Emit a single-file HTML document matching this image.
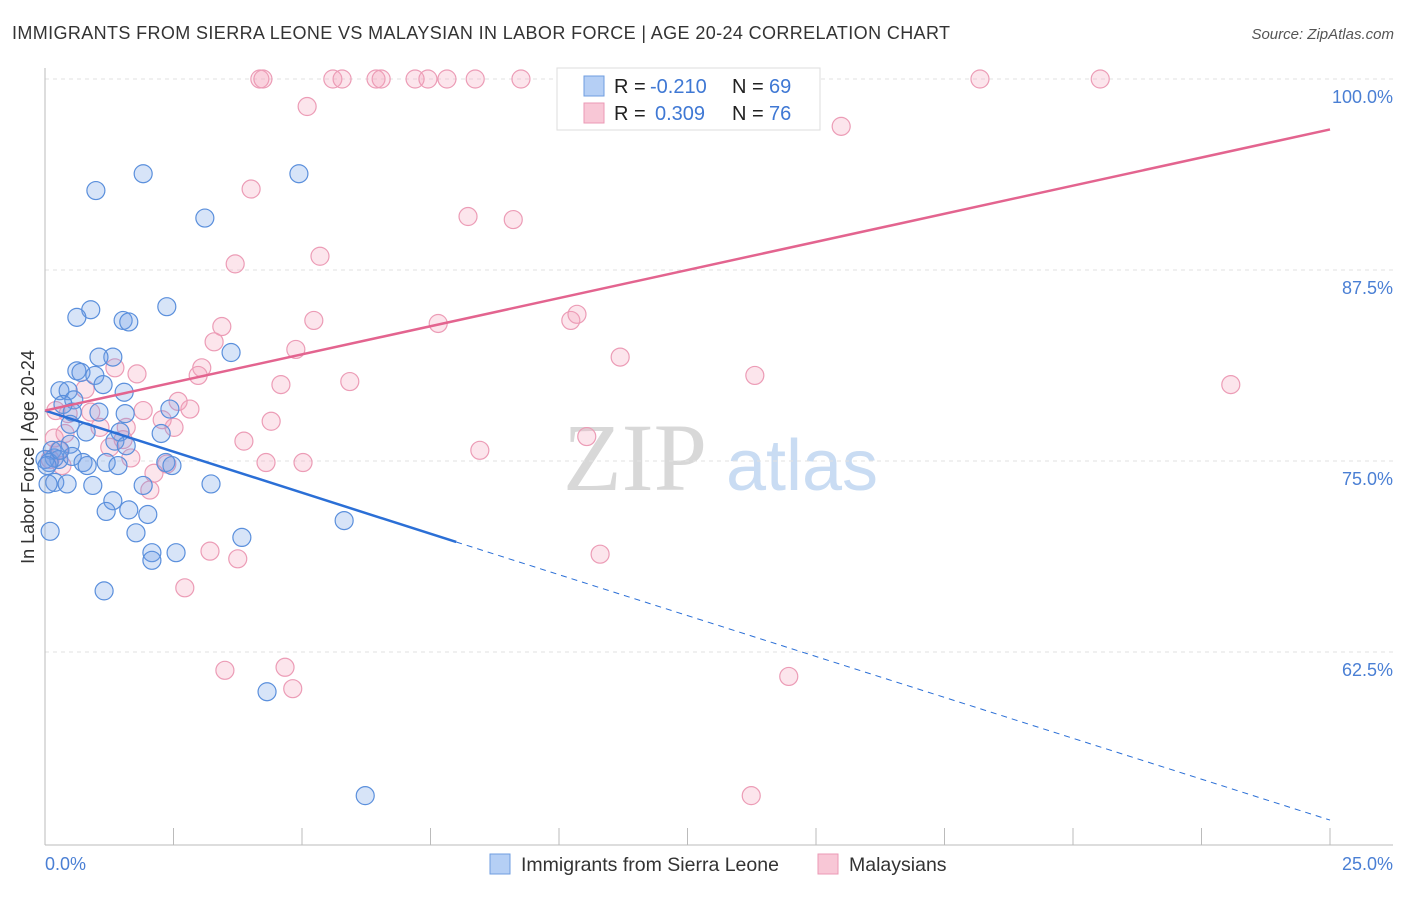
<!DOCTYPE html>
<html><head><meta charset="utf-8"><style>
body{margin:0;background:#fff;font-family:"Liberation Sans",sans-serif}
svg text{font-family:"Liberation Sans",sans-serif}
</style></head><body>
<svg id="c" width="1406" height="892" xmlns="http://www.w3.org/2000/svg">
<text x="12" y="39" font-size="18" fill="#333" textLength="938">IMMIGRANTS FROM SIERRA LEONE VS MALAYSIAN IN LABOR FORCE | AGE 20-24 CORRELATION CHART</text>
<text x="1394" y="39" font-size="15" fill="#555" font-style="italic" text-anchor="end">Source: ZipAtlas.com</text>
<g>
<text x="635" y="490" font-size="96" fill="#d8d8d8" text-anchor="middle" style="font-family:'Liberation Serif',serif">ZIP</text>
<text x="802" y="490" font-size="72" fill="#c9dcf3" text-anchor="middle">atlas</text>
</g>
<g id="grid"></g>
<g id="axes"></g>
<g id="pts"></g>
<g id="trend"></g>
<text transform="translate(34,457) rotate(-90)" font-size="18" fill="#333" text-anchor="middle">In Labor Force | Age 20-24</text>
<text x="45" y="870" font-size="18" fill="#4a7fd4">0.0%</text>
<text x="1393" y="870" font-size="18" fill="#4a7fd4" text-anchor="end">25.0%</text>
<g>
<rect x="557" y="68" width="263" height="62" fill="#fff" stroke="#ddd"/>
<rect x="584" y="76" width="20" height="20" fill="#b5cff5" stroke="#6f9ee0"/>
<rect x="584" y="103" width="20" height="20" fill="#f8c7d6" stroke="#eb9ab5"/>
<text x="614" y="93" font-size="20" fill="#222">R =</text>
<text x="650" y="93" font-size="20" fill="#3f78d4">-0.210</text>
<text x="732" y="93" font-size="20" fill="#222">N =</text>
<text x="769" y="93" font-size="20" fill="#3f78d4">69</text>
<text x="614" y="120" font-size="20" fill="#222">R =</text>
<text x="655" y="120" font-size="20" fill="#3f78d4">0.309</text>
<text x="732" y="120" font-size="20" fill="#222">N =</text>
<text x="769" y="120" font-size="20" fill="#3f78d4">76</text>
</g>
<g>
<rect x="490" y="854" width="20" height="20" fill="#b5cff5" stroke="#6f9ee0"/>
<text x="521" y="871" font-size="19.5" fill="#333">Immigrants from Sierra Leone</text>
<rect x="818" y="854" width="20" height="20" fill="#f8c7d6" stroke="#eb9ab5"/>
<text x="849" y="871" font-size="19.5" fill="#333">Malaysians</text>
</g>
</svg>
<script>
const yTicks=[100,87.5,75,62.5];
const yTickLabels=["100.0%","87.5%","75.0%","62.5%"];
const xTicks=[0,2.5,5,7.5,10,12.5,15,17.5,20,22.5,25];
const blueX=[1.91,4.94,0.99,3.11,2.37,0.89,0.62,1.52,1.63,3.62,1.32,1.05,0.62,0.70,0.97,1.13,0.29,0.45,1.54,0.56,0.35,2.43,1.56,1.05,0.53,0.49,0.80,1.46,2.26,1.36,1.58,0.49,0.14,0.18,0.27,0.53,1.19,0.74,0.82,1.42,2.35,2.47,0,0.19,0.43,0.93,1.91,3.23,1.32,1.19,1.63,2.00,1.77,5.82,3.83,2.08,2.08,2.55,0.10,1.15,4.32,6.23,0.06,0.08,0.29,0.04];
const blueY=[93.8,93.8,92.7,90.9,85.1,84.9,84.4,84.2,84.1,82.1,81.8,81.8,80.9,80.8,80.6,80.0,79.6,79.6,79.5,79.0,78.7,78.4,78.1,78.2,78.2,77.4,76.9,76.9,76.8,76.3,76.0,76.1,75.7,75.2,75.1,75.3,74.9,74.9,74.7,74.7,74.9,74.7,75.1,73.6,73.5,73.4,73.4,73.5,72.4,71.7,71.8,71.5,70.3,71.1,70.0,69.0,68.5,69.0,70.4,66.5,59.9,53.1,73.5,74.9,75.7,74.7];
const pinkX=[4.18,4.24,5.60,5.78,6.44,6.54,7.20,7.45,7.82,8.37,9.26,10.93,11.52,13.23,18.19,20.53,5.10,15.49,4.01,8.23,9.11,3.70,5.35,5.23,3.44,7.65,10.23,10.35,3.29,4.88,11.19,13.81,23.07,3.05,2.98,1.36,1.79,4.59,5.93,0.78,0.21,0.45,0.89,2.82,2.59,1.91,2.51,2.28,4.40,1.58,1.07,3.87,10.54,8.46,0.18,0.39,1.52,1.26,0.27,1.67,2.37,4.30,5.02,2.12,2.04,0.10,3.21,3.75,2.72,10.80,3.50,4.67,4.82,14.47,13.74,0.33];
const pinkY=[100,100,100,100,100,100,100,100,100,100,100,100,100,100,100,100,98.2,96.9,92.8,91.0,90.8,87.9,88.4,84.2,83.8,84.0,84.2,84.6,82.8,82.3,81.8,80.6,80.0,81.1,80.6,81.1,80.7,80.0,80.2,79.7,78.3,78.1,78.2,78.4,78.9,78.3,77.2,77.7,77.6,77.2,77.2,76.3,76.6,75.7,76.5,76.8,76.4,75.9,75.7,75.2,74.8,74.9,74.9,74.2,73.1,75.1,69.1,68.6,66.7,68.9,61.3,61.5,60.1,60.9,53.1,74.7];
const blueTrendX=[0,8,25];
const blueTrendY=[78.3,69.7,51.5];
const pinkTrendX=[0,25];
const pinkTrendY=[78.3,96.7];

const NS="http://www.w3.org/2000/svg";
const sx=v=>45+v*51.4;
const sy=v=>79+(100-v)*15.28;
function mk(tag,attrs,parent){const e=document.createElementNS(NS,tag);for(const k in attrs)e.setAttribute(k,attrs[k]);parent.appendChild(e);return e;}
const grid=document.getElementById('grid'),axes=document.getElementById('axes'),pts=document.getElementById('pts'),trend=document.getElementById('trend');
yTicks.forEach((t,i)=>{
 const l=mk('line',{x1:45,x2:1393,y1:sy(t),y2:sy(t),stroke:'#e2e2e2','stroke-dasharray':'4,4'},grid);
 
 
 const tx=mk('text',{x:1393,y:sy(t)+24,'font-size':18,fill:'#4a7fd4','text-anchor':'end'},axes);
 tx.textContent=yTickLabels[i];
 
 
});
const ya=mk('line',{x1:45,x2:45,y1:68,y2:845,stroke:'#bbb'},axes);


const xa=mk('line',{x1:45,x2:1393,y1:845,y2:845,stroke:'#bbb'},axes);


xTicks.forEach(t=>{
 const l=mk('line',{x1:sx(t),x2:sx(t),y1:828,y2:845,stroke:'#bbb'},axes);
 
 
});
function dots(X,Y,fill,stroke,name){
 X.forEach((x,i)=>{
  const c=mk('circle',{cx:sx(x),cy:sy(Y[i]),r:9,fill:fill,stroke:stroke,'stroke-width':1.2},pts);
  
  
 });
}
dots(pinkX,pinkY,'rgba(244,160,188,0.28)','#ec9cb6','malaysian-point');
dots(blueX,blueY,'rgba(110,158,230,0.28)','#5a8fdc','sierra-leone-point');
const b1=mk('line',{x1:sx(blueTrendX[0]),y1:sy(blueTrendY[0]),x2:sx(blueTrendX[1]),y2:sy(blueTrendY[1]),stroke:'#2b6fd6','stroke-width':2.5},trend);


const b2=mk('line',{x1:sx(blueTrendX[1]),y1:sy(blueTrendY[1]),x2:sx(blueTrendX[2]),y2:sy(blueTrendY[2]),stroke:'#2b6fd6','stroke-width':1,'stroke-dasharray':'6,5'},trend);


const p1=mk('line',{x1:sx(pinkTrendX[0]),y1:sy(pinkTrendY[0]),x2:sx(pinkTrendX[1]),y2:sy(pinkTrendY[1]),stroke:'#e3648f','stroke-width':2.5},trend);


</script>
</body></html>
